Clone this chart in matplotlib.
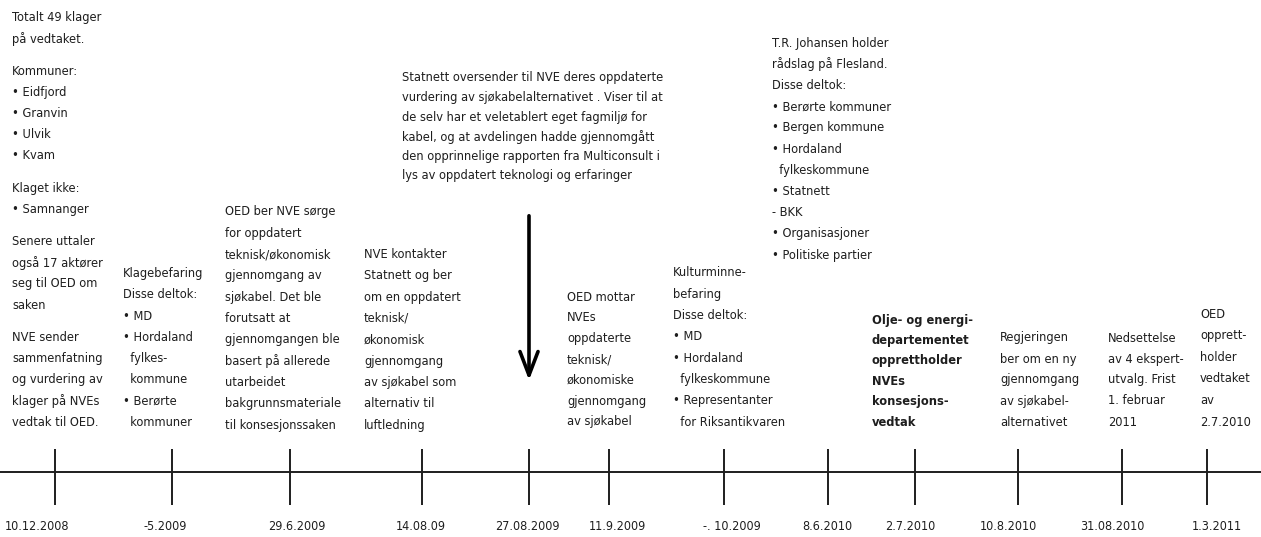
import matplotlib.pyplot as plt
from matplotlib import font_manager

# dato for hver hendelse på tidslinjen
datoer = ["10.12.2008", "-5.2009", "29.6.2009", "14.08.09", "27.08.2009", "11.9.2009",
          "-. 10.2009", "8.6.2010", "2.7.2010", "10.8.2010", "31.08.2010", "1.3.2011"]

# tekst for hver hendelse (avsnitt skilles med tom linje)
tekster = [
    "Totalt 49 klager\npå vedtaket.\n\nKommuner:\n• Eidfjord\n• Granvin\n• Ulvik\n• Kvam\n\n"
    "Klaget ikke:\n• Samnanger\n\nSenere uttaler\nogså 17 aktører\nseg til OED om\nsaken\n\n"
    "NVE sender\nsammenfatning\nog vurdering av\nklager på NVEs\nvedtak til OED.",
    "Klagebefaring\nDisse deltok:\n• MD\n• Hordaland\n  fylkes-\n  kommune\n• Berørte\n  kommuner",
    "OED ber NVE sørge\nfor oppdatert\nteknisk/økonomisk\ngjennomgang av\nsjøkabel. Det ble\nforutsatt at\n"
    "gjennomgangen ble\nbasert på allerede\nutarbeidet\nbakgrunnsmateriale\ntil konsesjonssaken",
    "NVE kontakter\nStatnett og ber\nom en oppdatert\nteknisk/\nøkonomisk\ngjennomgang\nav sjøkabel som\n"
    "alternativ til\nluftledning",
    "Statnett oversender til NVE deres oppdaterte\nvurdering av sjøkabelalternativet . Viser til at\n"
    "de selv har et veletablert eget fagmiljø for\nkabel, og at avdelingen hadde gjennomgått\n"
    "den opprinnelige rapporten fra Multiconsult i\nlys av oppdatert teknologi og erfaringer",
    "OED mottar\nNVEs\noppdaterte\nteknisk/\nøkonomiske\ngjennomgang\nav sjøkabel",
    "Kulturminne-\nbefaring\nDisse deltok:\n• MD\n• Hordaland\n  fylkeskommune\n• Representanter\n  for Riksantikvaren",
    "T.R. Johansen holder\nrådslag på Flesland.\nDisse deltok:\n• Berørte kommuner\n• Bergen kommune\n"
    "• Hordaland\n  fylkeskommune\n• Statnett\n- BKK\n• Organisasjoner\n• Politiske partier",
    "Olje- og energi-\ndepartementet\nopprettholder\nNVEs\nkonsesjons-\nvedtak",
    "Regjeringen\nber om en ny\ngjennomgang\nav sjøkabel-\nalternativet",
    "Nedsettelse\nav 4 ekspert-\nutvalg. Frist\n1. februar\n2011",
    "OED\nopprett-\nholder\nvedtaket\nav\n2.7.2010",
]
fet = [False] * 8 + [True] + [False] * 3

# plassering (piksler)
tick_x = [55, 172, 290, 422, 529, 609, 724, 828, 915, 1018, 1122, 1207]
dato_x = [37, 165, 297, 421, 527, 617, 732, 827, 910, 1008, 1112, 1217]
tekst_x = [12, 123, 225, 364, 402, 567, 673, 772, 872, 1000, 1108, 1200]
tekst_bunn = [422, 422, 425, 425, 176, 422, 422, 255, 422, 422, 422, 422]
linjeh = [21.2, 21.2, 21.3, 21.3, 19.6, 20.8, 21.3, 21.2, 20.4, 21.0, 21.0, 21.5]
avsnitt = 11

navn = {f.name for f in font_manager.fontManager.ttflist}
if "Liberation Sans Narrow" in navn:
    plt.rcParams['font.family'] = ['Liberation Sans Narrow', 'DejaVu Sans']
    fs = 11.0
else:
    plt.rcParams['font.family'] = ['DejaVu Sans']
    plt.rcParams['font.stretch'] = 'condensed'
    fs = 9.2

farge = '#1e1e1e'
fig = plt.figure(figsize=(12.61, 5.37), dpi=100)
ax = fig.add_axes([0, 0, 1, 1])
ax.set_xlim(0, 1261)
ax.set_ylim(537, 0)
ax.axis('off')

# tidslinje
ax.axhline(472, color=farge, lw=1.4)
ax.vlines(tick_x, 449, 505, color=farge, lw=1.4)
for x, d in zip(dato_x, datoer):
    ax.text(x, 527, d, ha='center', va='center', fontsize=fs * 0.98, color=farge)

# pil mot 27.08.2009
ax.annotate("", xy=(tick_x[4], 383), xytext=(tick_x[4], 213),
            arrowprops=dict(arrowstyle='->,head_length=1.7,head_width=0.65', lw=2.6, color='black'))

# tekstblokker
for tekst, x, bunn, lh, bold in zip(tekster, tekst_x, tekst_bunn, linjeh, fet):
    linjer = tekst.split("\n")
    # regn oppover fra nederste linje
    y = bunn
    pos = []
    for ln in reversed(linjer):
        if ln == "":
            y -= avsnitt
            continue
        pos.append((y, ln))
        y -= lh
    for y, ln in pos:
        ax.text(x, y, ln, ha='left', va='center', fontsize=fs, color=farge,
                fontweight='bold' if bold else 'normal')

fig.savefig("out.png", dpi=100)
